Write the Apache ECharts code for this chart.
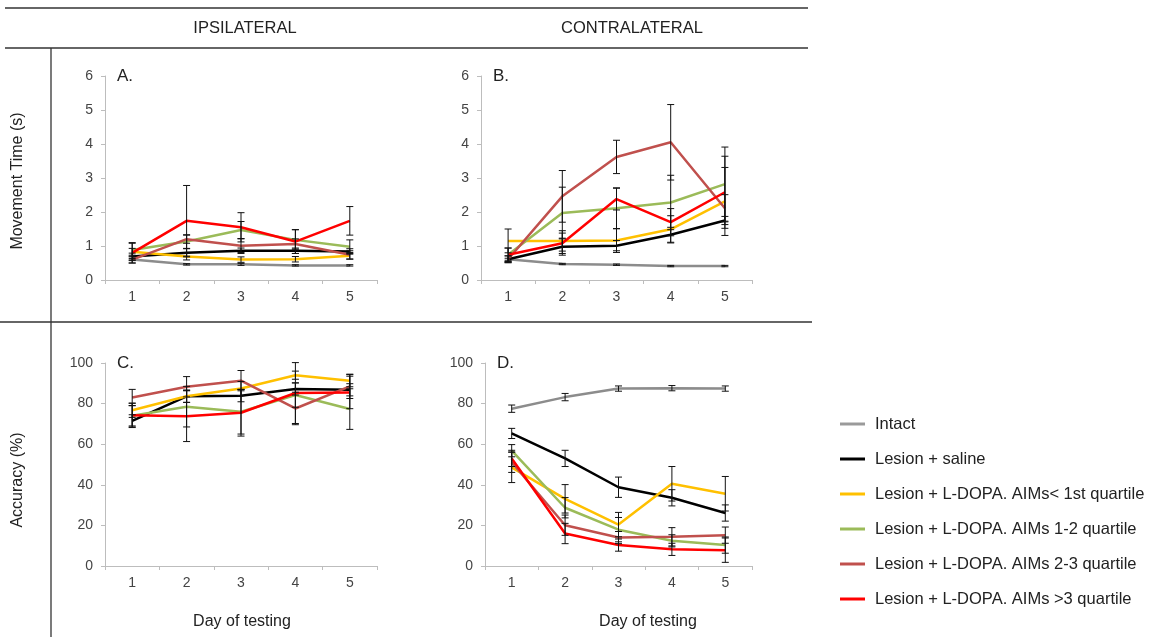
<!DOCTYPE html>
<html>
<head>
<meta charset="utf-8">
<script src="https://cdn.jsdelivr.net/npm/echarts@6/dist/echarts.min.js"></script>
<style>
html,body{margin:0;padding:0;background:#fff;}
#chart{width:1149px;height:637px;}
</style>
</head>
<body>
<div id="chart"></div>
<script>
// ---------- data ----------
const days = ['1', '2', '3', '4', '5'];
const groupNames = ['Intact', 'Lesion + saline', 'Lesion + L-DOPA. AIMs< 1st quartile',
  'Lesion + L-DOPA. AIMs 1-2 quartile', 'Lesion + L-DOPA. AIMs 2-3 quartile', 'Lesion + L-DOPA. AIMs >3 quartile'];
const groupColors = ['#8c8c8c', '#000000', '#ffc000', '#9bbb59', '#c0504d', '#ff0000'];

// Panel A: ipsilateral movement time (s)
const aIntact = [0.60, 0.46, 0.46, 0.43, 0.43];
const aSaline = [0.69, 0.80, 0.86, 0.86, 0.84];
const aQ1 = [0.83, 0.69, 0.60, 0.61, 0.71];
const aQ12 = [0.88, 1.13, 1.47, 1.18, 0.98];
const aQ23 = [0.60, 1.20, 1.01, 1.06, 0.74];
const aQ3 = [0.80, 1.74, 1.55, 1.13, 1.74];
const aIntactErr = [0.03, 0.02, 0.03, 0.02, 0.02];
const aSalineErr = [0.10, 0.12, 0.08, 0.08, 0.08];
const aQ1Err = [0.10, 0.10, 0.08, 0.08, 0.10];
const aQ12Err = [0.20, 0.20, 0.25, 0.30, 0.20];
const aQ23Err = [0.10, 0.12, 0.20, 0.15, 0.12];
const aQ3Err = [0.30, 1.04, 0.43, 0.35, 0.42];

// Panel B: contralateral movement time (s)
const bIntact = [0.61, 0.47, 0.45, 0.41, 0.41];
const bSaline = [0.61, 0.98, 1.01, 1.33, 1.75];
const bQ1 = [1.15, 1.15, 1.16, 1.49, 2.31];
const bQ12 = [0.74, 1.97, 2.11, 2.28, 2.82];
const bQ23 = [0.61, 2.46, 3.62, 4.05, 2.11];
const bQ3 = [0.74, 1.08, 2.38, 1.70, 2.58];
const bIntactErr = [0.03, 0.02, 0.02, 0.02, 0.02];
const bSalineErr = [0.10, 0.25, 0.15, 0.22, 0.12];
const bQ1Err = [0.35, 0.30, 0.35, 0.40, 1.00];
const bQ12Err = [0.20, 0.76, 0.60, 0.80, 1.09];
const bQ23Err = [0.10, 0.76, 0.49, 1.11, 0.40];
const bQ3Err = [0.20, 0.30, 0.32, 0.40, 1.06];

// Panel C: ipsilateral accuracy (%)
const cSaline = [71.5, 83.6, 83.9, 87.2, 86.8];
const cQ1 = [76.7, 83.6, 87.4, 94.0, 91.3];
const cQ12 = [74.0, 78.5, 76.0, 84.2, 77.3];
const cQ23 = [83.0, 88.3, 91.3, 77.6, 88.5];
const cQ3 = [74.2, 73.8, 75.5, 85.2, 85.5];
const cSalineErr = [3.0, 3.0, 3.0, 3.0, 3.0];
const cQ1Err = [3.5, 3.0, 3.5, 2.0, 3.0];
const cQ12Err = [5.0, 10.0, 11.0, 6.0, 10.0];
const cQ23Err = [4.0, 5.0, 5.0, 8.0, 6.0];
const cQ3Err = [6.0, 12.5, 11.5, 15.0, 8.0];

// Panel D: contralateral accuracy (%)
const dIntact = [77.5, 83.2, 87.4, 87.6, 87.4];
const dSaline = [65.3, 53.0, 38.8, 33.6, 26.1];
const dQ1 = [48.6, 33.1, 20.4, 40.5, 35.6];
const dQ12 = [56.8, 28.7, 17.9, 12.4, 10.3];
const dQ23 = [51.1, 20.1, 14.0, 14.4, 15.2];
const dQ3 = [53.0, 16.0, 10.3, 8.2, 7.8];
const dIntactErr = [1.8, 1.8, 1.3, 1.3, 1.3];
const dSalineErr = [2.5, 4.0, 5.0, 4.0, 4.0];
const dQ1Err = [7.5, 7.0, 6.0, 8.5, 8.5];
const dQ12Err = [3.0, 5.0, 6.0, 3.0, 4.0];
const dQ23Err = [5.0, 5.0, 3.0, 4.5, 4.0];
const dQ3Err = [4.0, 5.0, 3.0, 3.0, 6.0];

// ---------- build ----------
const panels = [
  { grid: { left: 105, top: 76, width: 272, height: 204 }, max: 6, interval: 1, label: 'A.',
    means: [aIntact, aSaline, aQ1, aQ12, aQ23, aQ3], errs: [aIntactErr, aSalineErr, aQ1Err, aQ12Err, aQ23Err, aQ3Err] },
  { grid: { left: 481, top: 76, width: 271, height: 204 }, max: 6, interval: 1, label: 'B.',
    means: [bIntact, bSaline, bQ1, bQ12, bQ23, bQ3], errs: [bIntactErr, bSalineErr, bQ1Err, bQ12Err, bQ23Err, bQ3Err] },
  { grid: { left: 105, top: 363, width: 272, height: 203 }, max: 100, interval: 20, label: 'C.',
    means: [null, cSaline, cQ1, cQ12, cQ23, cQ3], errs: [null, cSalineErr, cQ1Err, cQ12Err, cQ23Err, cQ3Err] },
  { grid: { left: 485, top: 363, width: 267, height: 203 }, max: 100, interval: 20, label: 'D.',
    means: [dIntact, dSaline, dQ1, dQ12, dQ23, dQ3], errs: [dIntactErr, dSalineErr, dQ1Err, dQ12Err, dQ23Err, dQ3Err] }
];

const axisColor = '#bdbdbd';
const labelColor = '#444';
const font = "'Liberation Sans', Arial, sans-serif";

const grids = [], xAxes = [], yAxes = [], series = [];
const graphics = [];

panels.forEach((p, pi) => {
  grids.push(Object.assign({ containLabel: false }, p.grid));
  xAxes.push({
    type: 'category', gridIndex: pi, data: days, boundaryGap: true,
    axisLine: { lineStyle: { color: axisColor, width: 1 } },
    axisTick: { show: true, length: 4, lineStyle: { color: axisColor } },
    axisLabel: { color: labelColor, fontSize: 14, fontFamily: font, margin: 10 },
    splitLine: { show: false }
  });
  yAxes.push({
    type: 'value', gridIndex: pi, min: 0, max: p.max, interval: p.interval,
    axisLine: { show: true, lineStyle: { color: axisColor, width: 1 } },
    axisTick: { show: true, length: 4, lineStyle: { color: axisColor } },
    axisLabel: { color: labelColor, fontSize: 14, fontFamily: font, margin: 12 },
    splitLine: { show: false }
  });
  const errData = [];
  p.means.forEach((m, gi) => {
    if (!m) return;
    series.push({
      name: groupNames[gi], type: 'line', xAxisIndex: pi, yAxisIndex: pi,
      data: m, symbol: 'none', smooth: false,
      lineStyle: { color: groupColors[gi], width: 2.5 },
      itemStyle: { color: groupColors[gi] },
      z: 2 + gi, animation: false
    });
    const e = p.errs[gi];
    m.forEach((v, di) => errData.push([di, v - e[di], v + e[di]]));
  });
  series.push({
    name: 'err' + pi, type: 'custom', xAxisIndex: pi, yAxisIndex: pi,
    data: errData, z: 10, animation: false, silent: true,
    renderItem: function (params, api) {
      const x = api.value(0);
      const lo = api.coord([x, api.value(1)]);
      const hi = api.coord([x, api.value(2)]);
      const c = 3.5;
      const st = { stroke: '#111', lineWidth: 1 };
      return {
        type: 'group',
        children: [
          { type: 'line', shape: { x1: lo[0], y1: lo[1], x2: hi[0], y2: hi[1] }, style: st },
          { type: 'line', shape: { x1: lo[0] - c, y1: lo[1], x2: lo[0] + c, y2: lo[1] }, style: st },
          { type: 'line', shape: { x1: hi[0] - c, y1: hi[1], x2: hi[0] + c, y2: hi[1] }, style: st }
        ]
      };
    }
  });
  graphics.push({
    type: 'text', left: p.grid.left + 12, top: p.grid.top - 8,
    style: { text: p.label, font: '17px ' + font, fill: '#222' }
  });
});

// layout frame lines, headers and axis titles
const frameStroke = { stroke: '#333', lineWidth: 1.3 };
const titleFont = '16px ' + font;
const headerFont = '16.5px ' + font;
graphics.push(
  { type: 'line', shape: { x1: 5, y1: 8, x2: 808, y2: 8 }, style: frameStroke },
  { type: 'line', shape: { x1: 5, y1: 48, x2: 808, y2: 48 }, style: frameStroke },
  { type: 'line', shape: { x1: 51, y1: 48, x2: 51, y2: 637 }, style: frameStroke },
  { type: 'line', shape: { x1: 0, y1: 322, x2: 812, y2: 322 }, style: frameStroke },
  { type: 'text', x: 245, y: 28, style: { text: 'IPSILATERAL', font: headerFont, fill: '#222', textAlign: 'center', textVerticalAlign: 'middle' } },
  { type: 'text', x: 632, y: 28, style: { text: 'CONTRALATERAL', font: headerFont, fill: '#222', textAlign: 'center', textVerticalAlign: 'middle' } },
  { type: 'text', x: 18, y: 181, rotation: Math.PI / 2, style: { text: 'Movement Time (s)', font: titleFont, fill: '#222', textAlign: 'center', textVerticalAlign: 'middle' } },
  { type: 'text', x: 18, y: 480, rotation: Math.PI / 2, style: { text: 'Accuracy (%)', font: titleFont, fill: '#222', textAlign: 'center', textVerticalAlign: 'middle' } },
  { type: 'text', x: 242, y: 622, style: { text: 'Day of testing', font: titleFont, fill: '#222', textAlign: 'center', textVerticalAlign: 'middle' } },
  { type: 'text', x: 648, y: 622, style: { text: 'Day of testing', font: titleFont, fill: '#222', textAlign: 'center', textVerticalAlign: 'middle' } }
);

const chart = echarts.init(document.getElementById('chart'), null, { renderer: 'canvas' });
chart.setOption({
  backgroundColor: '#fff',
  animation: false,
  grid: grids,
  xAxis: xAxes,
  yAxis: yAxes,
  series: series,
  graphic: graphics,
  legend: {
    data: groupNames.map((n, i) => ({ name: n, itemStyle: { color: i === 0 ? '#9a9a9a' : groupColors[i] } })),
    orient: 'vertical', left: 840, top: 414, padding: 0,
    icon: 'rect', itemWidth: 25, itemHeight: 3, itemGap: 15,
    selectedMode: false,
    textStyle: { color: '#222', fontSize: 16.5, fontFamily: font, lineHeight: 20, padding: [0, 0, 0, 5] }
  }
});
</script>
</body>
</html>
